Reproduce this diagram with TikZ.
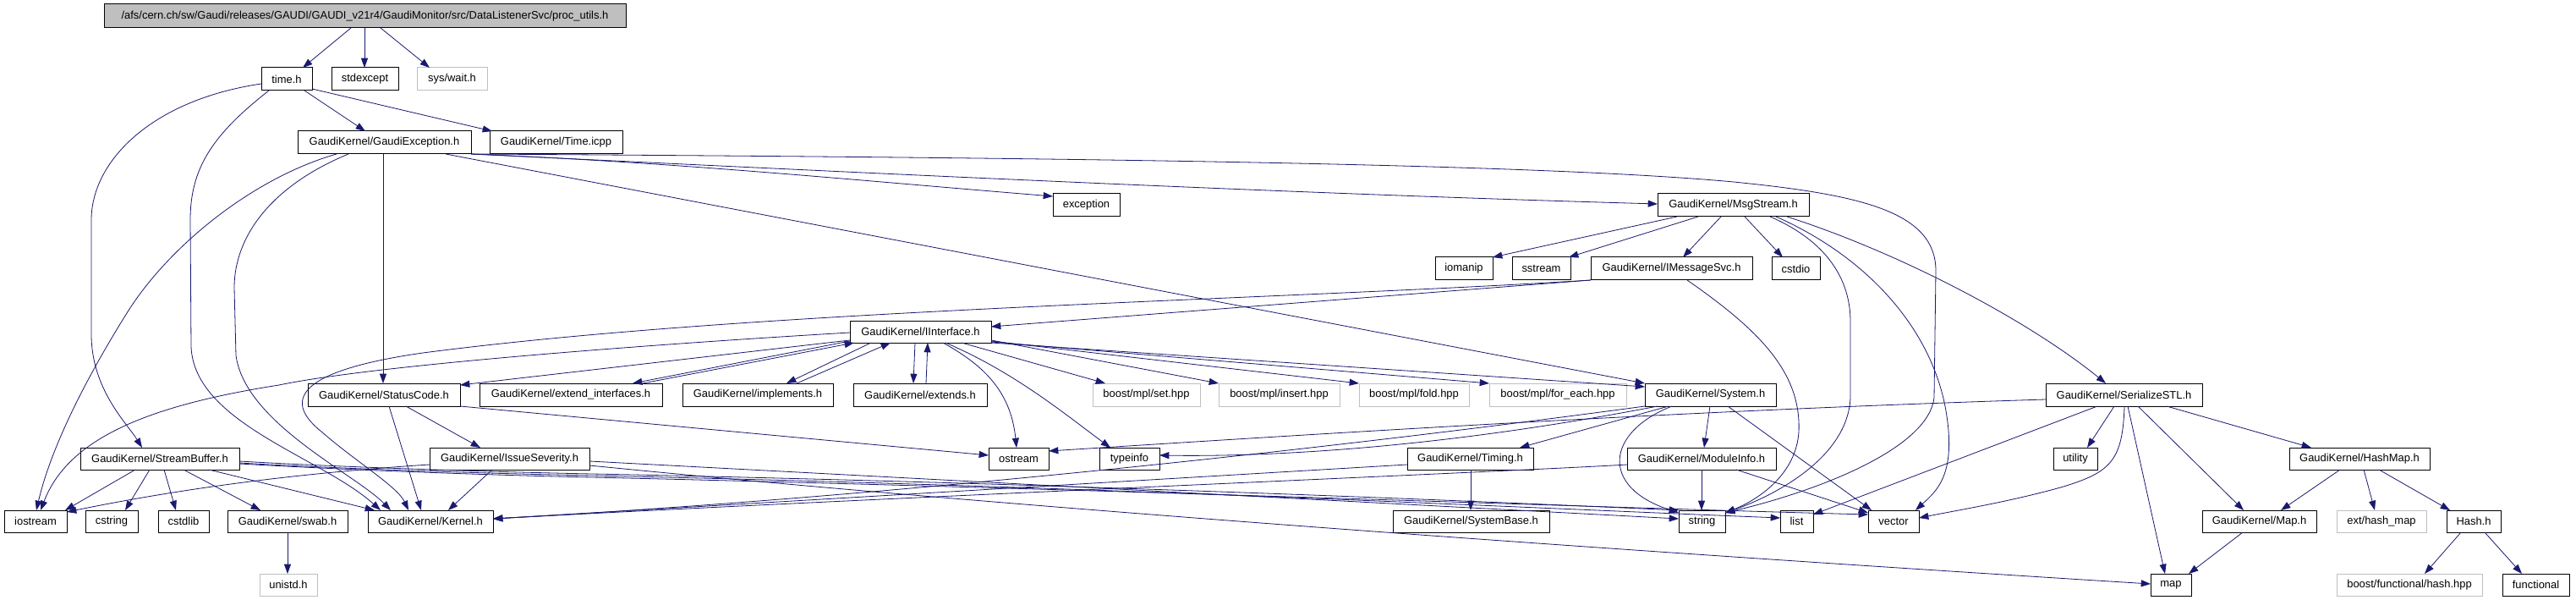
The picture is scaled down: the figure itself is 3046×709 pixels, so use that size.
\documentclass[tikz,border=0pt]{standalone}
\usepackage{fontspec}
\setmainfont{Liberation Sans}
\usetikzlibrary{arrows.meta,calc}
\definecolor{edgec}{HTML}{191970}
\definecolor{graybd}{HTML}{BFBFBF}
\definecolor{rootfill}{HTML}{BFBFBF}
\newcommand\nd[7][blk]{\node[#1, minimum width={(#5-#3)*0.75pt}, minimum height={(#6-#4)*0.75pt}] (#2) at ({(#3+#5)/2},{(#4+#6)/2}) {#7};}
\begin{document}
\begin{tikzpicture}[x=0.75pt,y=-0.75pt,
  blk/.style={draw=black, line width=0.75pt, inner sep=0pt, outer sep=0pt, font=\fontsize{9.7}{11}\selectfont},
  gry/.style={blk, draw=graybd},
  rootn/.style={blk, fill=rootfill},
  e/.style={draw=edgec, line width=0.6pt, -{Triangle[length=8.5pt,width=6pt]}, edgec}]
\useasboundingbox[fill=white] (0,0) rectangle (3046,709);
% nodes
\nd[rootn]{root}{123}{5}{740}{33}{/afs/cern.ch/sw/Gaudi/releases/GAUDI/GAUDI\_v21r4/GaudiMonitor/src/DataListenerSvc/proc\_utils.h}
\nd{timeh}{309}{80}{369}{107}{time.h}
\nd{stdexc}{392}{80}{471}{107}{stdexcept}
\nd[gry]{wait}{493}{80}{576}{107}{sys/wait.h}
\nd{ge}{352}{155}{557}{182}{GaudiKernel/GaudiException.h}
\nd{ticpp}{579}{155}{736}{182}{GaudiKernel/Time.icpp}
\nd{exc}{1245}{229}{1324}{256}{exception}
\nd{msg}{1960}{229}{2139}{256}{GaudiKernel/MsgStream.h}
\nd{ioman}{1697}{304}{1765}{331}{iomanip}
\nd{sstr}{1788}{304}{1857}{331}{sstream}
\nd{ims}{1881}{304}{2072}{331}{GaudiKernel/IMessageSvc.h}
\nd{cstdio}{2095}{304}{2152}{331}{cstdio}
\nd{ii}{1005}{379}{1172}{405}{GaudiKernel/IInterface.h}
\nd{sc}{364}{453}{544}{480}{GaudiKernel/StatusCode.h}
\nd{ext}{567}{453}{783}{480}{GaudiKernel/extend\_interfaces.h}
\nd{impl}{807}{453}{985}{480}{GaudiKernel/implements.h}
\nd{extd}{1009}{453}{1167}{480}{GaudiKernel/extends.h}
\nd[gry]{bset}{1292}{453}{1419}{480}{boost/mpl/set.hpp}
\nd[gry]{bins}{1441}{453}{1584}{480}{boost/mpl/insert.hpp}
\nd[gry]{bfold}{1607}{453}{1737}{480}{boost/mpl/fold.hpp}
\nd[gry]{bfe}{1761}{453}{1923}{480}{boost/mpl/for\_each.hpp}
\nd{sys}{1945}{453}{2100}{480}{GaudiKernel/System.h}
\nd{ser}{2419}{453}{2604}{480}{GaudiKernel/SerializeSTL.h}
\nd{sb}{95}{529}{283}{555}{GaudiKernel/StreamBuffer.h}
\nd{is}{508}{529}{697}{555}{GaudiKernel/IssueSeverity.h}
\nd{ostr}{1169}{529}{1240}{555}{ostream}
\nd{tinfo}{1300}{529}{1371}{555}{typeinfo}
\nd{timing}{1664}{529}{1813}{555}{GaudiKernel/Timing.h}
\nd{mod}{1924}{529}{2100}{555}{GaudiKernel/ModuleInfo.h}
\nd{util}{2428}{529}{2480}{555}{utility}
\nd{hmap}{2707}{529}{2873}{555}{GaudiKernel/HashMap.h}
\nd{iostr}{5}{603}{79}{629}{iostream}
\nd{cstr}{101}{603}{163}{629}{cstring}
\nd{cstdl}{187}{603}{247}{629}{cstdlib}
\nd{swab}{269}{603}{411}{629}{GaudiKernel/swab.h}
\nd{kern}{435}{603}{583}{629}{GaudiKernel/Kernel.h}
\nd{sysb}{1647}{603}{1832}{629}{GaudiKernel/SystemBase.h}
\nd{str}{1985}{603}{2040}{629}{string}
\nd{list}{2105}{603}{2144}{629}{list}
\nd{vec}{2209}{603}{2269}{629}{vector}
\nd{maph}{2604}{603}{2739}{629}{GaudiKernel/Map.h}
\nd[gry]{hmapx}{2763}{603}{2869}{629}{ext/hash\_map}
\nd{hash}{2893}{603}{2957}{629}{Hash.h}
\nd[gry]{unistd}{307}{678}{375}{704}{unistd.h}
\nd{map}{2543}{678}{2591}{704}{map}
\nd[gry]{bfh}{2763}{678}{2935}{704}{boost/functional/hash.hpp}
\nd{func}{2959}{678}{3038}{704}{functional}
% edges
\draw[e] ($(root.south west)+(292,0)$) -- ($(timeh.north west)+(49,0)$);
\draw[e] ($(root.south west)+(308,0)$) -- ($(stdexc.north west)+(39,0)$);
\draw[e] ($(root.south west)+(327,0)$) -- ($(wait.north west)+(15,0)$);
\draw[e] ($(timeh.south west)+(51,0)$) -- ($(ge.north west)+(80,0)$);
\draw[e] ($(timeh.north east)+(0,25)$) -- ($(ticpp.north west)+(3,0)$);
\draw[e] ($(timeh.north west)+(0,19)$) .. controls (180,118) and (108,190) .. (108,260) -- (108,395) .. controls (108,460) and (150,500) .. ($(sb.north west)+(73,0)$);
\draw[e] ($(timeh.south west)+(9,0)$) .. controls (250,160) and (225,200) .. (225,260) -- (226,410) .. controls (230,500) and (380,540) .. ($(kern.north west)+(15,0)$);
\draw[e] ($(ge.south west)+(46,0)$) .. controls (300,210) and (200,290) .. (150,370) .. controls (100,450) and (60,530) .. ($(iostr.north west)+(38,0)$);
\draw[e] ($(ge.south west)+(60,0)$) .. controls (320,220) and (277,280) .. (277,340) -- (279,420) .. controls (290,500) and (420,560) .. ($(kern.north west)+(27,0)$);
\draw[e] ($(ge.south west)+(101,0)$) -- ($(sc.north west)+(89,0)$);
\draw[e] (ge.south east) .. controls (800,192) and (1000,212) .. ($(exc.north west)+(0,3)$);
\draw[e] (ge.south east) .. controls (1000,203) and (1500,228) .. ($(msg.north west)+(0,12)$);
\draw[e] (ge.south east) .. controls (1200,186) and (1800,192) .. (2050,215) .. controls (2200,230) and (2289,250) .. (2289,320) -- (2287,470) .. controls (2280,530) and (2150,580) .. ($(str.north east)+(0,3)$);
\draw[e] ($(ge.south west)+(175,0)$) -- (sys.north west);
\draw[e] ($(msg.south west)+(23,0)$) -- (ioman.north east);
\draw[e] ($(msg.south west)+(48,0)$) -- ($(sstr.north east)+(-2,0)$);
\draw[e] ($(msg.south west)+(75,0)$) -- ($(ims.north west)+(109,0)$);
\draw[e] ($(msg.south west)+(103,0)$) -- ($(cstdio.north west)+(13,0)$);
\draw[e] ($(msg.south west)+(133,0)$) .. controls (2160,285) and (2188,330) .. (2188,380) -- (2188,470) .. controls (2185,540) and (2100,585) .. ($(str.north east)+(0,3)$);
\draw[e] ($(msg.south west)+(140,0)$) .. controls (2200,300) and (2280,380) .. (2300,480) .. controls (2315,560) and (2290,580) .. ($(vec.north west)+(56,0)$);
\draw[e] ($(msg.south west)+(153,0)$) .. controls (2250,300) and (2400,380) .. ($(ser.north west)+(71,0)$);
\draw[e] (ims.south west) -- ($(ii.north east)+(0,7)$);
\draw[e] (ims.south west) .. controls (1500,355) and (900,365) .. (500,417) .. controls (360,437) and (330,470) .. (380,510) .. controls (420,545) and (470,575) .. ($(kern.north west)+(48,0)$);
\draw[e] ($(ims.south west)+(114,0)$) .. controls (2080,390) and (2130,440) .. (2127,510) .. controls (2124,560) and (2080,590) .. ($(str.north east)+(0,3)$);
\draw[e] ($(ii.north west)+(0,23)$) -- ($(sc.north east)+(0,2)$);
\draw[e] ($(ii.south west)+(0,-2)$) -- ($(ext.north west)+(181,0)$);
\draw[e] ($(ext.north west)+(193,0)$) -- ($(ii.south west)+(5,0)$);
\draw[e] ($(ii.south west)+(25,0)$) -- ($(impl.north west)+(123,0)$);
\draw[e] ($(impl.north west)+(135,0)$) -- ($(ii.south west)+(48,0)$);
\draw[e] ($(ii.south west)+(77,0)$) -- ($(extd.north west)+(71,0)$);
\draw[e] ($(extd.north west)+(86,0)$) -- ($(ii.south west)+(92,0)$);
\draw[e] ($(ii.south west)+(110,0)$) .. controls (1160,430) and (1195,460) .. ($(ostr.north west)+(33,0)$);
\draw[e] ($(ii.south west)+(113,0)$) .. controls (1200,440) and (1260,490) .. ($(tinfo.north west)+(13,0)$);
\draw[e] ($(ii.south west)+(132,0)$) -- ($(bset.north west)+(15,0)$);
\draw[e] ($(ii.south east)+(0,-3)$) -- (bins.north west);
\draw[e] ($(ii.south east)+(0,-2)$) -- (bfold.north west);
\draw[e] ($(ii.south east)+(0,-1)$) -- (bfe.north west);
\draw[e] (ii.south east) -- ($(sys.north west)+(0,4)$);
\draw[e] ($(ii.north west)+(0,14)$) .. controls (800,405) and (450,430) .. (330,455) .. controls (170,480) and (80,520) .. ($(iostr.north west)+(43,0)$);
\draw[e] ($(sc.south west)+(96,0)$) -- ($(kern.north west)+(63,0)$);
\draw[e] ($(sc.south west)+(116,0)$) -- ($(is.north west)+(60,0)$);
\draw[e] (sc.south east) -- ($(ostr.north west)+(0,9)$);
\draw[e] ($(is.south west)+(74,0)$) -- ($(kern.north west)+(95,0)$);
\draw[e] ($(is.north west)+(0,20)$) .. controls (400,556) and (250,570) .. ($(iostr.north east)+(0,2)$);
\draw[e] ($(is.north east)+(0,16)$) -- ($(str.north west)+(0,10)$);
\draw[e] ($(is.north east)+(0,21)$) .. controls (1200,600) and (1900,650) .. ($(map.north west)+(0,12)$);
\draw[e] ($(sb.south west)+(65,0)$) -- ($(iostr.north west)+(72,0)$);
\draw[e] ($(sb.south west)+(82,0)$) -- ($(cstr.north west)+(47,0)$);
\draw[e] ($(sb.south west)+(99,0)$) -- ($(cstdl.north west)+(21,0)$);
\draw[e] ($(sb.south west)+(122,0)$) -- ($(swab.north west)+(39,0)$);
\draw[e] ($(sb.south west)+(152,0)$) -- ($(kern.north west)+(8,0)$);
\draw[e] ($(sb.north east)+(0,16)$) .. controls (420,553) and (600,558) .. (700,560) .. controls (1200,570) and (1700,590) .. (str.north west);
\draw[e] ($(sb.north east)+(0,18)$) .. controls (420,555) and (600,560) .. (700,562) .. controls (1300,575) and (1800,600) .. ($(list.north west)+(0,9)$);
\draw[e] ($(sb.north east)+(0,19)$) .. controls (420,556) and (600,562) .. (700,564) .. controls (1300,578) and (1900,600) .. ($(vec.north west)+(0,5)$);
\draw[e] ($(swab.south west)+(71,0)$) -- ($(unistd.north west)+(33,0)$);
\draw[e] ($(sys.south west)+(28,0)$) -- ($(timing.north west)+(133,0)$);
\draw[e] ($(sys.south west)+(77,0)$) -- ($(mod.north west)+(91,0)$);
\draw[e] ($(sys.south west)+(98,0)$) -- ($(vec.north west)+(4,0)$);
\draw[e] ($(sys.south west)+(32,0)$) .. controls (1900,510) and (1890,575) .. ($(str.north west)+(0,3)$);
\draw[e] ($(sys.south west)+(15,0)$) .. controls (1700,530) and (1500,540) .. ($(tinfo.north east)+(0,9)$);
\draw[e] (sys.south west) .. controls (1500,540) and (1000,590) .. ($(kern.north east)+(0,10)$);
\draw[e] ($(timing.south west)+(75,0)$) -- ($(sysb.north west)+(92,0)$);
\draw[e] ($(timing.north west)+(0,20)$) -- ($(kern.north east)+(0,10)$);
\draw[e] ($(mod.south west)+(88,0)$) -- ($(str.north west)+(27,0)$);
\draw[e] ($(mod.south west)+(129,0)$) -- ($(vec.north west)+(0,3)$);
\draw[e] ($(mod.north west)+(0,20)$) .. controls (1813,556) and (1000,590) .. ($(kern.north east)+(0,10)$);
\draw[e] ($(ser.north west)+(0,19)$) .. controls (2000,485) and (1600,510) .. ($(ostr.north east)+(0,4)$);
\draw[e] ($(ser.south west)+(61,0)$) -- ($(list.north east)+(0,5)$);
\draw[e] ($(ser.south west)+(81,0)$) -- ($(util.north west)+(40,0)$);
\draw[e] ($(ser.south west)+(93,0)$) .. controls (2510,545) and (2495,558) .. (2440,575) .. controls (2380,592) and (2320,602) .. ($(vec.north east)+(0,9)$);
\draw[e] ($(ser.south west)+(97,0)$) -- ($(map.north west)+(17,0)$);
\draw[e] ($(ser.south west)+(109,0)$) -- ($(maph.north west)+(49,0)$);
\draw[e] ($(ser.south west)+(143,0)$) -- ($(hmap.north west)+(26,0)$);
\draw[e] ($(hmap.south west)+(60,0)$) -- ($(maph.north west)+(93,0)$);
\draw[e] ($(hmap.south west)+(88,0)$) -- ($(hmapx.north west)+(45,0)$);
\draw[e] ($(hmap.south west)+(106,0)$) -- ($(hash.north west)+(4,0)$);
\draw[e] ($(maph.south west)+(48,0)$) -- ($(map.north west)+(45,0)$);
\draw[e] ($(hash.south west)+(17,0)$) -- ($(bfh.north west)+(104,0)$);
\draw[e] ($(hash.south west)+(45,0)$) -- ($(func.north west)+(23,0)$);
\end{tikzpicture}
\end{document}
